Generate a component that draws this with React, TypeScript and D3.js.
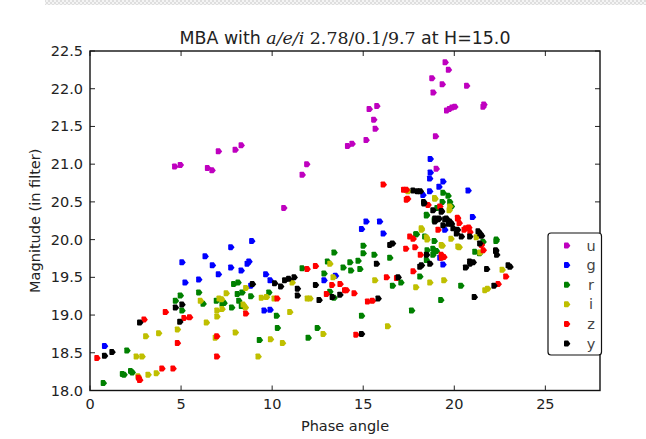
import React from "react";
import * as d3 from "d3";

type Pt = [number, number];

const bands = ["u", "g", "r", "i", "z", "y"];
const bandColors = ["#bf00bf", "#0000ff", "#008000", "#bfbf00", "#ff0000", "#000000"];

const xTicks = [0, 5, 10, 15, 20, 25];
const yTicks = [18.0, 18.5, 19.0, 19.5, 20.0, 20.5, 21.0, 21.5, 22.0, 22.5];

const uData: Pt[] = [
  [4.67, 20.97], [4.98, 20.99], [6.47, 20.95], [6.72, 20.92], [7.07, 21.17], [7.99, 21.19], [8.32, 21.25],
  [10.66, 20.42], [11.67, 20.86], [11.92, 21.0], [14.16, 21.24], [14.41, 21.27], [15.18, 21.32], [15.68, 21.47],
  [15.6, 21.59], [15.35, 21.73], [15.77, 21.77], [18.99, 21.37], [19.03, 20.94], [18.79, 22.14], [18.86, 21.95],
  [19.36, 22.06], [19.52, 22.35], [19.7, 22.25], [20.7, 22.04], [19.6, 21.71], [19.75, 21.73], [19.9, 21.75],
  [20.05, 21.76], [21.6, 21.76], [21.65, 21.79],
];

const gData: Pt[] = [
  [0.82, 18.59], [5.07, 19.7], [5.24, 19.43], [5.99, 19.47], [6.34, 19.78], [6.74, 19.66], [7.07, 19.54],
  [7.75, 19.9], [7.75, 19.63], [8.32, 19.59], [8.65, 19.68], [8.75, 19.71], [8.9, 19.98], [8.85, 19.39],
  [9.67, 19.54], [9.91, 19.46], [9.58, 19.06], [9.91, 19.07], [12.87, 19.46], [13.5, 19.52], [14.93, 20.14],
  [15.18, 20.24], [15.92, 20.24], [16.12, 20.08], [18.67, 20.81], [18.7, 21.07], [18.7, 20.89], [19.4, 20.77],
  [19.18, 20.7], [20.78, 20.65], [18.67, 20.64], [18.3, 20.59], [21.02, 20.3], [19.5, 20.13], [19.4, 19.67],
  [19.23, 19.76],
];

const rData: Pt[] = [
  [0.75, 18.1], [1.8, 18.22], [1.89, 18.21], [2.25, 18.26], [2.34, 18.24], [2.05, 18.53], [4.71, 19.19],
  [4.98, 19.26], [5.07, 19.06], [5.99, 19.3], [6.23, 19.15], [6.96, 19.19], [7.27, 19.15], [7.38, 19.16],
  [7.91, 19.41], [8.15, 19.43], [8.11, 19.28], [8.37, 19.3], [7.8, 19.1], [8.19, 19.19], [8.33, 19.12],
  [8.85, 19.25], [9.84, 19.3], [10.26, 18.99], [10.31, 18.83], [9.32, 18.67], [11.67, 19.62], [12.0, 18.7],
  [12.5, 18.83], [12.87, 19.55], [13.06, 19.71], [13.42, 19.83], [13.19, 19.31], [13.92, 19.63], [13.42, 19.23],
  [15.02, 19.92], [15.02, 19.82], [15.62, 19.8], [14.29, 19.7], [14.74, 19.72], [14.34, 19.59], [14.84, 19.61],
  [16.48, 19.76], [16.63, 19.39], [17.09, 19.43], [14.93, 18.99], [17.68, 19.06], [18.13, 19.51], [18.53, 19.86],
  [18.92, 19.98], [18.92, 19.85], [19.04, 19.85], [17.91, 20.07], [18.5, 20.33], [18.92, 20.26], [19.4, 20.62],
  [19.68, 20.58], [19.77, 20.5], [19.86, 20.44], [19.36, 20.5], [19.07, 20.42], [18.49, 20.32], [17.94, 20.07],
  [18.4, 20.04], [18.85, 19.88], [18.85, 19.8], [20.38, 19.39], [19.28, 19.2], [21.15, 19.84], [21.6, 19.97],
  [21.41, 19.82], [22.33, 20.0], [22.31, 19.98], [18.49, 19.73],
];

const iData: Pt[] = [
  [2.56, 18.45], [2.88, 18.45], [2.66, 18.19], [3.21, 18.21], [3.66, 18.23], [3.08, 18.72], [3.79, 18.76],
  [4.82, 18.81], [6.41, 18.9], [6.08, 19.19], [6.9, 18.7], [6.99, 18.98], [6.99, 19.06], [7.27, 19.08],
  [7.11, 19.22], [7.25, 19.21], [7.5, 19.29], [8.0, 18.77], [8.43, 19.14], [8.55, 19.1], [8.57, 19.36],
  [9.25, 18.45], [9.43, 19.23], [9.71, 19.24], [9.93, 18.68], [10.13, 19.22], [10.59, 18.63], [10.99, 19.04],
  [11.12, 19.43], [11.95, 19.22], [12.1, 19.22], [12.82, 18.75], [13.19, 19.68], [13.37, 19.5], [15.66, 19.46],
  [16.36, 18.85], [17.91, 19.37], [18.68, 19.43], [19.45, 19.46], [18.22, 20.13], [18.53, 20.0], [19.36, 19.92],
  [19.84, 20.01], [20.29, 19.9], [18.96, 20.54], [21.43, 19.83], [21.7, 19.33], [21.85, 19.35], [22.65, 19.6],
  [19.74, 20.39], [18.94, 20.55], [19.77, 20.44], [18.21, 20.15], [18.49, 20.03], [19.31, 19.93], [20.22, 19.91],
  [21.23, 20.03], [17.48, 20.64],
];

const zData: Pt[] = [
  [0.4, 18.43], [2.99, 18.94], [2.68, 18.17], [2.75, 18.14], [3.97, 18.29], [4.58, 18.29], [4.16, 19.04],
  [4.82, 18.63], [5.18, 18.96], [5.49, 18.97], [6.98, 18.72], [6.98, 18.45], [8.57, 19.02], [10.29, 19.22],
  [11.94, 19.61], [12.4, 19.65], [13.3, 19.4], [13.0, 19.28], [13.75, 19.41], [14.0, 19.33], [16.12, 20.73],
  [17.24, 20.66], [17.39, 20.66], [17.39, 20.53], [17.46, 20.54], [17.58, 20.04], [17.76, 20.01], [17.36, 19.88],
  [17.86, 19.9], [17.76, 19.58], [16.3, 19.5], [16.85, 19.49], [15.26, 19.18], [15.53, 19.19], [14.62, 18.74],
  [14.1, 19.33], [14.52, 19.29], [19.32, 19.76], [19.45, 19.77], [19.23, 20.44], [20.2, 20.28], [20.29, 20.22],
  [20.56, 20.13], [20.82, 20.16], [20.88, 20.1], [21.61, 19.86], [22.43, 19.41], [22.85, 19.51], [18.58, 20.46],
  [20.65, 20.15], [19.13, 20.13], [18.16, 19.8], [19.31, 19.8], [21.51, 19.93], [20.2, 20.29],
];

const yData: Pt[] = [
  [0.82, 18.46], [1.23, 18.51], [2.75, 18.9], [4.71, 19.1], [5.07, 19.14], [4.95, 18.91], [10.16, 19.42],
  [10.49, 19.38], [10.71, 19.46], [10.93, 19.48], [11.23, 19.5], [8.94, 19.41], [11.41, 19.26], [11.41, 19.35],
  [12.4, 19.4], [12.6, 19.2], [13.32, 19.24], [13.74, 19.27], [16.48, 19.93], [16.63, 19.95], [15.75, 19.68],
  [16.94, 19.5], [15.84, 19.22], [14.93, 18.75], [17.76, 20.65], [18.0, 20.64], [18.35, 20.48], [18.5, 19.8],
  [18.22, 19.66], [18.68, 19.68], [18.13, 19.64], [19.32, 20.38], [19.69, 20.21], [19.14, 20.27], [19.5, 20.27],
  [19.87, 20.21], [18.96, 20.28], [20.2, 20.13], [20.64, 19.63], [20.88, 19.68], [21.06, 19.7], [21.12, 19.24],
  [21.43, 20.08], [21.52, 20.05], [21.8, 19.61], [22.29, 19.85], [22.35, 19.8], [22.98, 19.66], [23.08, 19.64],
  [22.2, 19.39], [18.85, 20.39], [19.31, 20.37], [19.59, 20.28], [19.18, 20.28], [19.77, 20.24], [19.95, 20.15],
  [20.14, 20.08], [18.95, 20.24], [19.4, 20.19], [20.41, 20.04], [21.33, 20.11], [20.87, 20.04], [22.3, 19.86],
  [20.87, 19.71], [21.42, 19.95], [18.16, 20.64], [18.34, 20.5],
];

const seriesData: Pt[][] = [uData, gData, rData, iData, zData, yData];

const W = 646;
const H = 439;
const M = { left: 90, right: 600, top: 51, bottom: 390.5 };

const markerPath = "M-3,-2.2 Q-3,-3 -2,-3 L1.1,-3 L3.4,0.2 L1.1,3 L-2,3 Q-3,3 -3,2.2 Z";

export default function App() {
  const x = d3.scaleLinear().domain([0, 28]).range([M.left, M.right]);
  const y = d3.scaleLinear().domain([18, 22.5]).range([M.bottom, M.top]);
  const tickLen = 5;
  const font = "'DejaVu Sans', sans-serif";
  const tickColor = "#222";

  return (
    <svg
      width={W}
      height={H}
      viewBox={`0 0 ${W} ${H}`}
      style={{ position: "absolute", left: 0, top: 0, background: "#fff" }}
    >
      <defs>
        <pattern id="chk" width="4" height="4" patternUnits="userSpaceOnUse">
          <rect width="4" height="4" fill="#f4f4f4" />
          <rect width="2" height="2" fill="#dedede" />
          <rect x="2" y="2" width="2" height="2" fill="#dedede" />
        </pattern>
        <clipPath id="plotclip">
          <rect x={M.left} y={M.top} width={M.right - M.left} height={M.bottom - M.top} />
        </clipPath>
      </defs>
      <rect x={0} y={0} width={W} height={H} fill="#fff" />
      <rect x={45} y={0} width={W - 45} height={5} fill="url(#chk)" />

      {/* data */}
      <g clipPath="url(#plotclip)">
        {seriesData.map((pts, si) => (
          <g key={bands[si]} fill={bandColors[si]}>
            {pts.map((p, k) => (
              <path key={k} d={markerPath} transform={`translate(${x(p[0])},${y(p[1])})`} />
            ))}
          </g>
        ))}
      </g>

      {/* ticks */}
      <g stroke={tickColor} strokeWidth={1}>
        {xTicks.map((t) => (
          <g key={"xt" + t}>
            <line x1={x(t)} x2={x(t)} y1={M.bottom} y2={M.bottom - tickLen} />
            <line x1={x(t)} x2={x(t)} y1={M.top} y2={M.top + tickLen} />
          </g>
        ))}
        {yTicks.map((t) => (
          <g key={"yt" + t}>
            <line x1={M.left} x2={M.left + tickLen} y1={y(t)} y2={y(t)} />
            <line x1={M.right} x2={M.right - tickLen} y1={y(t)} y2={y(t)} />
          </g>
        ))}
      </g>

      {/* spines */}
      <rect
        x={M.left}
        y={M.top}
        width={M.right - M.left}
        height={M.bottom - M.top}
        fill="none"
        stroke="#111"
        strokeWidth={1.4}
      />

      {/* tick labels */}
      <g fontFamily={font} fontSize={14.5} fill={tickColor}>
        {xTicks.map((t) => (
          <text key={"xl" + t} x={x(t)} y={M.bottom + 18} textAnchor="middle">
            {String(t)}
          </text>
        ))}
        {yTicks.map((t) => (
          <text key={"yl" + t} x={M.left - 7} y={y(t) + 5} textAnchor="end">
            {t.toFixed(1)}
          </text>
        ))}
      </g>

      {/* axis labels */}
      <text x={(M.left + M.right) / 2} y={431} textAnchor="middle" fontFamily={font} fontSize={14.5} fill={tickColor}>
        Phase angle
      </text>
      <text
        transform={`translate(40,${(M.top + M.bottom) / 2}) rotate(-90)`}
        textAnchor="middle"
        fontFamily={font}
        fontSize={14.5}
        fill={tickColor}
      >
        Magnitude (in filter)
      </text>

      {/* title */}
      <text x={(M.left + M.right) / 2} y={44} textAnchor="middle" fontFamily={font} fontSize={17.4} fill={tickColor}>
        <tspan>MBA with </tspan>
        <tspan fontFamily="'DejaVu Serif', serif" fontStyle="italic">a/e/i</tspan>
        <tspan fontFamily="'DejaVu Serif', serif"> 2.78/0.1/9.7</tspan>
        <tspan> at H=15.0</tspan>
      </text>

      {/* legend */}
      <g>
        <rect x={548} y={233} width={53.5} height={122} rx={3} ry={3} fill="#fff" stroke="#111" strokeWidth={1.2} />
        {bands.map((b, k) => (
          <g key={"lg" + b}>
            <path d={markerPath} transform={`translate(567,${245.5 + k * 19.6})`} fill={bandColors[k]} />
            <text x={591} y={245.5 + k * 19.6 + 5} textAnchor="middle" fontFamily={font} fontSize={14.5} fill="#444">
              {b}
            </text>
          </g>
        ))}
      </g>
    </svg>
  );
}
